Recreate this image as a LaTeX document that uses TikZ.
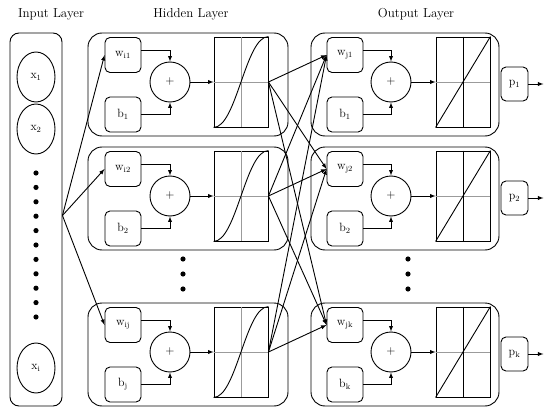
\documentclass[tikz,border=0pt]{standalone}
\usepackage{tikz}
\usepackage{xcolor}
\usetikzlibrary{shapes.geometric}
\definecolor{gridgray}{RGB}{155,155,155}

\tikzset{
  layerbox/.style={draw, rounded corners=9pt, minimum width=52pt, minimum height=373pt, inner sep=0pt},
  neuronbox/.style={draw, rounded corners=14pt, minimum height=103pt, inner sep=0pt},
  parambox/.style={draw, rounded corners=5pt, minimum width=36pt, minimum height=35pt, inner sep=0pt},
  sumnode/.style={draw, circle, minimum size=40pt, inner sep=0pt},
  actbox/.style={draw, minimum width=54pt, minimum height=90pt, inner sep=0pt},
  outbox/.style={draw, rounded corners=5pt, minimum width=27pt, minimum height=34pt, inner sep=0pt},
  inputnode/.style={draw, ellipse, minimum width=38pt, minimum height=50pt, inner sep=0pt},
  title/.style={font=\fontsize{13}{15}\selectfont},
}

\begin{document}
\begin{tikzpicture}[>=latex, x=1pt, y=-1pt, line width=0.9pt, font=\fontsize{12}{14}\selectfont]
    \useasboundingbox (0,0) rectangle (550,415);

    % Titles
    \node[title] (inputtitle) at (51,14) {Input Layer};
    \node[title] (hiddentitle) at (191,14) {Hidden Layer};
    \node[title] (outputtitle) at (416,14) {Output Layer};

    % Input layer
    \node[layerbox] (inputlayer) at (36,219.5) {};
    \node[inputnode] (in1) at (36,77) {x\textsubscript{1}};
    \node[inputnode] (in2) at (36,129) {x\textsubscript{2}};
    \node[inputnode] (ini) at (36,368) {x\textsubscript{i}};
    \foreach \i in {0,...,10} \fill (36,173+14.4*\i) circle (2.6pt);

    % Hidden neuron 1
    \node[neuronbox, minimum width=200pt] (hblock1) at (188,84.5) {};
    \node[parambox] (hw1) at (123,55) {w\textsubscript{i1}};
    \node[parambox] (hb1) at (123,114.5) {b\textsubscript{1}};
    \node[sumnode] (hsum1) at (170,82) {+};
    \node[actbox] (hact1) at (241,82) {};
    \draw[->] ([yshift=5pt]hw1.east) -| (hsum1.north);
    \draw[->] (hb1.east) -| (hsum1.south);
    \draw[->] (hsum1.east) -- (hact1.west);

    % Hidden neuron 2
    \node[neuronbox, minimum width=200pt] (hblock2) at (188,198.5) {};
    \node[parambox] (hw2) at (123,169) {w\textsubscript{i2}};
    \node[parambox] (hb2) at (123,228.5) {b\textsubscript{2}};
    \node[sumnode] (hsum2) at (170,196) {+};
    \node[actbox] (hact2) at (241,196) {};
    \draw[->] ([yshift=5pt]hw2.east) -| (hsum2.north);
    \draw[->] (hb2.east) -| (hsum2.south);
    \draw[->] (hsum2.east) -- (hact2.west);

    % Hidden neuron j
    \node[neuronbox, minimum width=200pt] (hblock3) at (188,354.5) {};
    \node[parambox] (hw3) at (123,325) {w\textsubscript{ij}};
    \node[parambox] (hb3) at (123,384.5) {b\textsubscript{j}};
    \node[sumnode] (hsum3) at (170,352) {+};
    \node[actbox] (hact3) at (241,352) {};
    \draw[->] ([yshift=5pt]hw3.east) -| (hsum3.north);
    \draw[->] (hb3.east) -| (hsum3.south);
    \draw[->] (hsum3.east) -- (hact3.west);

    % Sigmoid curves
    \foreach \n in {1,2,3} {
        \draw[gridgray, line width=0.6pt] (hact\n.north) -- (hact\n.south);
        \draw[gridgray, line width=0.6pt] (hact\n.west) -- (hact\n.east);
        \draw (hact\n.south west) .. controls +(23,0) and +(-23,0) .. (hact\n.north east);
    }
    \foreach \y in {259,274,289} \fill (183,\y) circle (2.6pt);

    % Output neuron 1
    \node[neuronbox, minimum width=188pt] (oblock1) at (405,84.5) {};
    \node[parambox] (ow1) at (345,55) {w\textsubscript{j1}};
    \node[parambox] (ob1) at (345,114.5) {b\textsubscript{1}};
    \node[sumnode] (osum1) at (391,82) {+};
    \node[actbox] (oact1) at (463,82) {};
    \node[outbox] (p1) at (514.5,84) {p\textsubscript{1}};
    \draw[->] ([yshift=5pt]ow1.east) -| (osum1.north);
    \draw[->] (ob1.east) -| (osum1.south);
    \draw[->] (osum1.east) -- (oact1.west);
    \draw[->] (p1.east) -- +(15,0);

    % Output neuron 2
    \node[neuronbox, minimum width=188pt] (oblock2) at (405,198.5) {};
    \node[parambox] (ow2) at (345,169) {w\textsubscript{j2}};
    \node[parambox] (ob2) at (345,228.5) {b\textsubscript{2}};
    \node[sumnode] (osum2) at (391,196) {+};
    \node[actbox] (oact2) at (463,196) {};
    \node[outbox] (p2) at (514.5,198) {p\textsubscript{2}};
    \draw[->] ([yshift=5pt]ow2.east) -| (osum2.north);
    \draw[->] (ob2.east) -| (osum2.south);
    \draw[->] (osum2.east) -- (oact2.west);
    \draw[->] (p2.east) -- +(15,0);

    % Output neuron k
    \node[neuronbox, minimum width=188pt] (oblock3) at (405,354.5) {};
    \node[parambox] (ow3) at (345,325) {w\textsubscript{jk}};
    \node[parambox] (ob3) at (345,384.5) {b\textsubscript{k}};
    \node[sumnode] (osum3) at (391,352) {+};
    \node[actbox] (oact3) at (463,352) {};
    \node[outbox] (p3) at (514.5,354) {p\textsubscript{k}};
    \draw[->] ([yshift=5pt]ow3.east) -| (osum3.north);
    \draw[->] (ob3.east) -| (osum3.south);
    \draw[->] (osum3.east) -- (oact3.west);
    \draw[->] (p3.east) -- +(15,0);

    % Linear transfer
    \foreach \n in {1,2,3} {
        \draw[gridgray, line width=0.6pt] (oact\n.west) -- (oact\n.east);
        \draw (oact\n.north) -- (oact\n.south);
        \draw (oact\n.south west) -- (oact\n.north east);
    }
    \foreach \y in {259,274,289} \fill (408,\y) circle (2.6pt);

    % Input -> hidden
    \draw[->] ([yshift=4pt]inputlayer.east) -- (hw1.west);
    \draw[->] ([yshift=4pt]inputlayer.east) -- (hw2.west);
    \draw[->] ([yshift=4pt]inputlayer.east) -- (hw3.west);

    % Hidden -> output
    \foreach \h in {1,2,3}
        \foreach \o in {1,2,3}
            \draw[->] (hact\h.east) -- (ow\o.west);
\end{tikzpicture}
\end{document}
